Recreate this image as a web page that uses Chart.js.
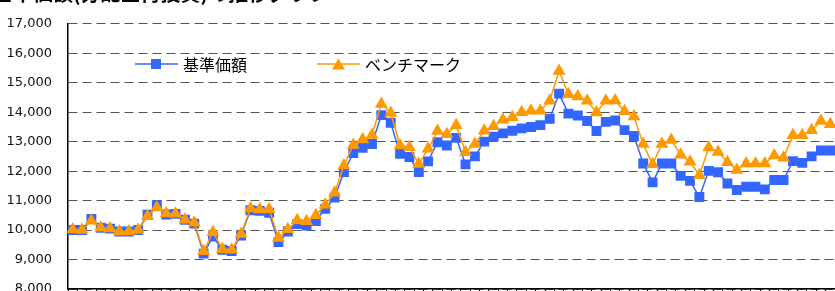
<!DOCTYPE html>
<html><head><meta charset="utf-8">
<script src="https://cdn.jsdelivr.net/npm/chart.js@4"></script>
<style>
html,body{margin:0;padding:0;background:#fff;overflow:hidden;width:835px;height:291px;}
#wrap{position:relative;width:835px;height:291px;overflow:hidden;background:#fff;}
#title{position:absolute;left:-7px;top:-17px;font-weight:bold;font-size:20px;font-family:"Noto Sans CJK JP";white-space:nowrap;color:#000;line-height:20px;}
#c{position:absolute;left:0;top:0;}
.leg{position:absolute;font-size:16px;font-family:"Noto Sans CJK JP";color:#000;display:flex;align-items:center;white-space:nowrap;line-height:20px;}
.leg svg{margin-right:5px;}
</style></head>
<body><div id="wrap">
<canvas id="c" width="835" height="320"></canvas>
<div id="title">基準価額(分配金再投資)の推移グラフ</div>
<div class="leg" style="left:135px;top:54px"><svg width="43" height="14"><line x1="0" y1="7" x2="43" y2="7" stroke="#3366FF" stroke-width="1.5"/><rect x="16" y="2" width="10" height="10" fill="#3366FF"/></svg><span>基準価額</span></div>
<div class="leg" style="left:317px;top:54px"><svg width="43" height="14"><line x1="0" y1="7" x2="43" y2="7" stroke="#FF9900" stroke-width="1.5"/><polygon points="21.5,1.5 28,12.5 15,12.5" fill="#FF9900"/></svg><span>ベンチマーク</span></div>
</div>
<script>
const categories = ["1","2","3","4","5","6","7","8","9","10","11","12","13","14","15","16","17","18","19","20",
"21","22","23","24","25","26","27","28","29","30","31","32","33","34","35","36","37","38","39","40",
"41","42","43","44","45","46","47","48","49","50","51","52","53","54","55","56","57","58","59","60",
"61","62","63","64","65","66","67","68","69","70","71","72","73","74","75","76","77","78","79","80",
"81","82"];

const navValues = [10000,10000,10380,10080,10050,9950,9950,10000,10520,10840,
10530,10550,10350,10220,9200,9780,9330,9290,9810,10670,
10650,10590,9590,9950,10200,10150,10310,10720,11100,11970,
12610,12790,12920,13900,13640,12590,12480,11970,12330,12980,
12870,13130,12230,12500,13000,13170,13280,13370,13450,13500,
13560,13780,14630,13950,13890,13700,13360,13670,13720,13390,
13190,12260,11620,12260,12260,11840,11670,11120,12010,11960,
11580,11360,11470,11470,11380,11700,11700,12340,12280,12500,
12700,12700];

const benchmarkValues = [10020,10000,10320,10080,10050,9950,9950,10000,10470,10770,
10560,10550,10350,10250,9280,9930,9350,9330,9870,10730,
10700,10710,9730,10030,10330,10300,10500,10860,11270,12190,
12890,13070,13230,14280,13970,12870,12810,12240,12760,13360,
13250,13560,12640,12920,13370,13520,13740,13830,14000,14050,
14050,14390,15400,14610,14530,14390,13990,14390,14400,14030,
13850,12920,12230,12920,13060,12560,12320,11860,12800,12650,
12300,12040,12260,12260,12260,12530,12450,13220,13220,13390,
13700,13590];

const seriesNames = ["基準価額", "ベンチマーク"];
const yMin = 8000, yMax = 17000, yStep = 1000;

new Chart(document.getElementById('c'), {
  type: 'line',
  data: {
    labels: categories,
    datasets: [
      {
        label: seriesNames[0], data: navValues,
        borderColor: '#3366FF', backgroundColor: '#3366FF', borderWidth: 1.5,
        pointStyle: 'rect', pointRadius: 7, pointBorderWidth: 0,
        pointBackgroundColor: '#3366FF', tension: 0, order: 2
      },
      {
        label: seriesNames[1], data: benchmarkValues,
        borderColor: '#FF9900', backgroundColor: '#FF9900', borderWidth: 1.5,
        pointStyle: 'triangle', pointRadius: 7.5, pointBorderWidth: 0,
        pointBackgroundColor: '#FF9900', tension: 0, order: 1
      }
    ]
  },
  options: {
    responsive: false, animation: false, devicePixelRatio: 1,
    layout: { autoPadding: false, padding: { top: 18, left: 0, right: 0, bottom: 0 } },
    plugins: { legend: { display: false }, tooltip: { enabled: false }, title: { display: false } },
    scales: {
      x: {
        offset: true,
        grid: { offset: true, drawOnChartArea: false, drawTicks: true, tickLength: 4, color: '#000' },
        border: { display: true, color: '#000', width: 1.5 },
        ticks: { display: false },
        afterFit: s => { s.height = 31; }
      },
      y: {
        min: yMin, max: yMax,
        ticks: { stepSize: yStep, padding: 16, color: '#111',
          font: { family: 'DejaVu Sans', size: 13 },
          callback: v => v.toLocaleString('en-US') },
        grid: { color: '#555', lineWidth: 1, drawTicks: false },
        border: { display: true, color: '#000', width: 1.5, dash: [9, 5] },
        afterFit: s => { s.width = 68; }
      }
    }
  }
});
</script>
</body></html>
